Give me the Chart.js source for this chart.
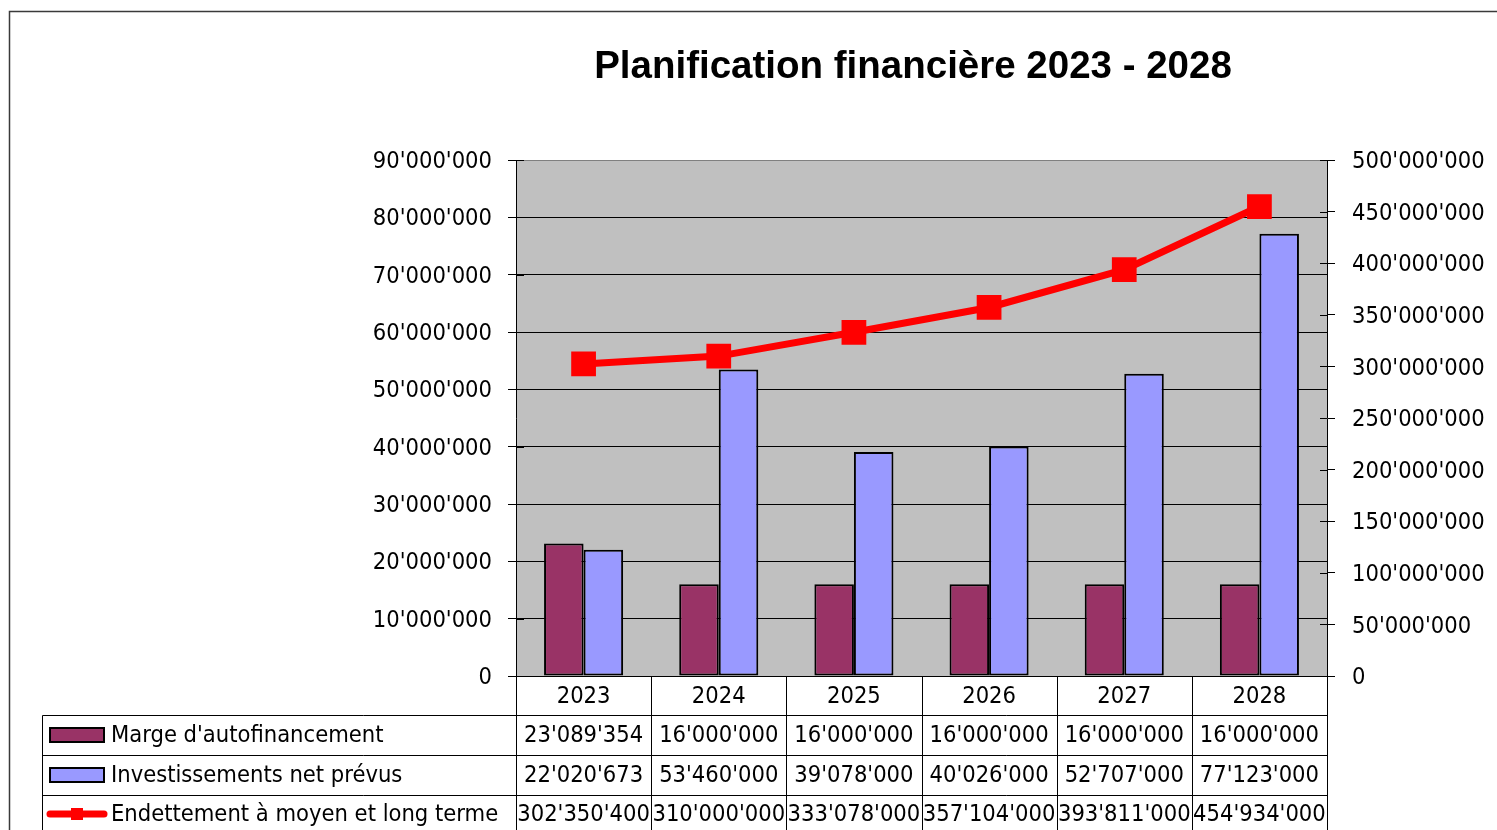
<!DOCTYPE html>
<html>
<head>
<meta charset="utf-8">
<script src="https://cdn.jsdelivr.net/npm/chart.js@4"></script>
<style>
  html, body { margin: 0; padding: 0; background: #fff; }
  #wrap { width: 1497px; height: 830px; position: relative; }
</style>
</head>
<body>
<div id="wrap"><canvas id="c" width="1497" height="830"></canvas></div>
<script>
const chartTitle = 'Planification financière 2023 - 2028';
const years = ['2023', '2024', '2025', '2026', '2027', '2028'];
const marge = [23089354, 16000000, 16000000, 16000000, 16000000, 16000000];
const investissements = [22020673, 53460000, 39078000, 40026000, 52707000, 77123000];
const endettement = [302350400, 310000000, 333078000, 357104000, 393811000, 454934000];
const seriesNames = ["Marge d'autofinancement", 'Investissements net prévus', 'Endettement à moyen et long terme'];
const leftAxis = { min: 0, max: 90000000, step: 10000000 };
const rightAxis = { min: 0, max: 500000000, step: 50000000 };

const COL_MARGE = '#993366';
const COL_INV = '#9999FF';
const COL_LINE = '#FF0000';
const FONT_FAMILY = '"DejaVu Sans Condensed", "DejaVu Sans", sans-serif';
const FONT_SIZE = 23.5;

function fmt(n) {
  return String(Math.round(n)).replace(/\B(?=(\d{3})+(?!\d))/g, "'");
}

const decor = {
  id: 'decor',
  beforeDraw(chart) {
    const ctx = chart.ctx, a = chart.chartArea;
    ctx.save();
    ctx.fillStyle = '#fff';
    ctx.fillRect(0, 0, chart.width, chart.height);
    ctx.fillStyle = '#C0C0C0';
    ctx.fillRect(a.left, a.top, a.right - a.left, a.bottom - a.top);
    // outer frame
    ctx.strokeStyle = '#3a3a3a';
    ctx.lineWidth = 1.5;
    ctx.beginPath();
    ctx.moveTo(9.5, chart.height + 5);
    ctx.lineTo(9.5, 11.5);
    ctx.lineTo(chart.width + 5, 11.5);
    ctx.stroke();
    // title
    ctx.fillStyle = '#000';
    ctx.font = 'bold 38.5px "Liberation Sans", Arial, sans-serif';
    ctx.textAlign = 'center';
    ctx.textBaseline = 'middle';
    ctx.fillText(chartTitle, 913, 67);
    ctx.restore();
  },
  afterDraw(chart) {
    const ctx = chart.ctx, a = chart.chartArea;
    const ys = chart.scales.y, ys1 = chart.scales.y1;
    ctx.save();
    // inner tick marks
    ctx.strokeStyle = '#000';
    ctx.lineWidth = 1;
    ctx.beginPath();
    ys.ticks.forEach((t, i) => {
      const p = Math.round(ys.getPixelForTick(i)) + 0.5;
      ctx.moveTo(a.left, p); ctx.lineTo(a.left + 8, p);
    });
    ys1.ticks.forEach((t, i) => {
      const p = Math.round(ys1.getPixelForTick(i)) + 0.5;
      ctx.moveTo(a.right - 7, p); ctx.lineTo(a.right, p);
    });
    ctx.stroke();

    // data table
    const n = years.length;
    const cw = (a.right - a.left) / n;
    const tableLeft = 42.5;
    const rowLines = [715.5, 755.5, 795.5, 835.5];
    ctx.beginPath();
    rowLines.forEach(y => { ctx.moveTo(tableLeft, y); ctx.lineTo(Math.round(a.right) + 0.5, y); });
    for (let i = 0; i <= n; i++) {
      const x = Math.round(a.left + i * cw) + 0.5;
      ctx.moveTo(x, a.bottom); ctx.lineTo(x, chart.height + 5);
    }
    ctx.moveTo(tableLeft, rowLines[0]); ctx.lineTo(tableLeft, chart.height + 5);
    ctx.stroke();

    ctx.fillStyle = '#000';
    ctx.font = FONT_SIZE + 'px ' + FONT_FAMILY;
    ctx.textBaseline = 'middle';
    ctx.textAlign = 'center';
    const hdrY = (a.bottom + 715) / 2 + 1;
    years.forEach((yr, i) => ctx.fillText(yr, a.left + (i + 0.5) * cw, hdrY));
    const rows = [marge, investissements, endettement];
    const rowY = [736, 776, 815];
    rows.forEach((vals, r) => {
      vals.forEach((v, i) => ctx.fillText(fmt(v), a.left + (i + 0.5) * cw, rowY[r]));
    });
    // legend keys + names
    ctx.textAlign = 'left';
    seriesNames.forEach((name, r) => ctx.fillText(name, 111, rowY[r]));
    ctx.lineWidth = 2;
    ctx.strokeStyle = '#000';
    [[COL_MARGE, rowY[0]], [COL_INV, rowY[1]]].forEach(([c, y]) => {
      ctx.fillStyle = c;
      ctx.fillRect(50, y - 8, 54, 14);
      ctx.strokeRect(50, y - 8, 54, 14);
    });
    ctx.strokeStyle = COL_LINE;
    ctx.lineWidth = 7;
    ctx.lineCap = 'round';
    ctx.beginPath();
    ctx.moveTo(50, rowY[2] - 1); ctx.lineTo(104, rowY[2] - 1);
    ctx.stroke();
    ctx.fillStyle = COL_LINE;
    ctx.fillRect(71, rowY[2] - 7, 12, 12);
    ctx.restore();
  }
};

new Chart(document.getElementById('c'), {
  data: {
    labels: years,
    datasets: [
      {
        type: 'line', label: seriesNames[2], data: endettement, yAxisID: 'y1', order: 0,
        borderColor: COL_LINE, backgroundColor: COL_LINE, borderWidth: 7,
        pointStyle: 'rect', pointRadius: 17.5, pointBorderWidth: 0, tension: 0
      },
      {
        type: 'bar', label: seriesNames[0], data: marge, yAxisID: 'y', order: 1,
        backgroundColor: COL_MARGE, borderColor: '#000', borderWidth: 2, borderSkipped: false,
        categoryPercentage: 0.585, barPercentage: 1
      },
      {
        type: 'bar', label: seriesNames[1], data: investissements, yAxisID: 'y', order: 1,
        backgroundColor: COL_INV, borderColor: '#000', borderWidth: 2, borderSkipped: false,
        categoryPercentage: 0.585, barPercentage: 1
      }
    ]
  },
  options: {
    responsive: false,
    animation: false,
    devicePixelRatio: 1,
    layout: { padding: { top: 160, left: 0, right: 0, bottom: 0 } },
    plugins: { legend: { display: false }, title: { display: false }, tooltip: { enabled: false } },
    scales: {
      x: {
        type: 'category', offset: true,
        grid: { display: false, drawTicks: false },
        border: { display: true, color: '#000', width: 1 },
        ticks: { display: false },
        afterFit(s) { s.height = 154; }
      },
      y: {
        position: 'left', min: leftAxis.min, max: leftAxis.max,
        ticks: { stepSize: leftAxis.step, padding: 16, color: '#000', labelOffset: 2,
                 font: { family: FONT_FAMILY, size: FONT_SIZE }, callback: v => fmt(v) },
        grid: { color: c => (c.tick && c.tick.value === leftAxis.max ? '#808080' : '#000'),
                tickColor: '#000', tickLength: 8, lineWidth: 1 },
        border: { display: true, color: '#000', width: 1 },
        afterFit(s) { s.width = 516; }
      },
      y1: {
        position: 'right', min: rightAxis.min, max: rightAxis.max,
        ticks: { stepSize: rightAxis.step, padding: 17, color: '#000', labelOffset: 2,
                 font: { family: FONT_FAMILY, size: FONT_SIZE }, callback: v => fmt(v) },
        grid: { drawOnChartArea: false, tickColor: '#000', tickLength: 8, lineWidth: 1 },
        border: { display: true, color: '#000', width: 1 },
        afterFit(s) { s.width = 170; }
      }
    }
  },
  plugins: [decor]
});
</script>
</body>
</html>
